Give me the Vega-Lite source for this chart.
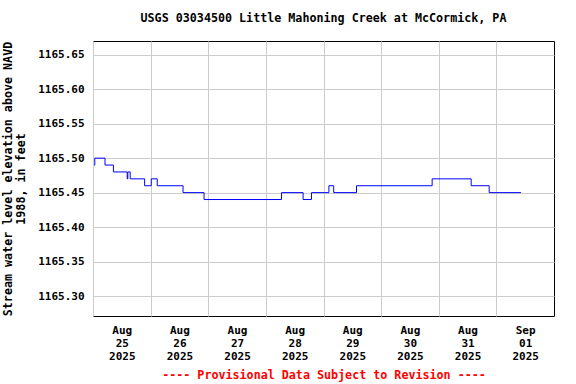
{
  "$schema": "https://vega.github.io/schema/vega-lite/v6.json",
  "width": 461,
  "height": 275,
  "autosize": {"type": "none"},
  "padding": {"left": 93, "top": 41, "right": 22, "bottom": 68},
  "background": "white",
  "title": {
    "text": "USGS 03034500 Little Mahoning Creek at McCormick, PA",
    "font": "DejaVu Sans Mono",
    "fontSize": 11.7,
    "fontWeight": "bold",
    "color": "black",
    "anchor": "middle",
    "offset": 16
  },
  "config": {
    "view": {"stroke": "black", "strokeWidth": 1},
    "axis": {
      "labelFont": "DejaVu Sans Mono",
      "labelFontWeight": "bold",
      "labelFontSize": 11,
      "labelColor": "black",
      "titleFont": "DejaVu Sans Mono",
      "titleFontWeight": "bold",
      "titleFontSize": 11.7,
      "titleColor": "black",
      "gridColor": "#cccccc",
      "gridWidth": 1,
      "domain": false,
      "ticks": false
    }
  },
  "data": {
    "values": [
      {"t": "2025-08-25T00:25:00Z", "v": 1165.49},
      {"t": "2025-08-25T00:45:00Z", "v": 1165.50},
      {"t": "2025-08-25T05:00:00Z", "v": 1165.49},
      {"t": "2025-08-25T08:30:00Z", "v": 1165.48},
      {"t": "2025-08-25T14:15:00Z", "v": 1165.47},
      {"t": "2025-08-25T14:30:00Z", "v": 1165.48},
      {"t": "2025-08-25T15:30:00Z", "v": 1165.47},
      {"t": "2025-08-25T21:30:00Z", "v": 1165.46},
      {"t": "2025-08-26T00:15:00Z", "v": 1165.47},
      {"t": "2025-08-26T02:45:00Z", "v": 1165.46},
      {"t": "2025-08-26T13:30:00Z", "v": 1165.45},
      {"t": "2025-08-26T22:15:00Z", "v": 1165.44},
      {"t": "2025-08-28T06:30:00Z", "v": 1165.45},
      {"t": "2025-08-28T15:30:00Z", "v": 1165.44},
      {"t": "2025-08-28T19:00:00Z", "v": 1165.45},
      {"t": "2025-08-29T02:15:00Z", "v": 1165.46},
      {"t": "2025-08-29T04:15:00Z", "v": 1165.45},
      {"t": "2025-08-29T13:45:00Z", "v": 1165.46},
      {"t": "2025-08-30T21:15:00Z", "v": 1165.47},
      {"t": "2025-08-31T13:30:00Z", "v": 1165.46},
      {"t": "2025-08-31T21:00:00Z", "v": 1165.45},
      {"t": "2025-09-01T10:15:00Z", "v": 1165.45}
    ]
  },
  "mark": {"type": "line", "interpolate": "step-after", "color": "#0000ff", "strokeWidth": 1, "clip": true},
  "encoding": {
    "x": {
      "field": "t",
      "type": "temporal",
      "scale": {"type": "utc", "domain": [{"year": 2025, "month": 8, "date": 25, "utc": true}, {"year": 2025, "month": 9, "date": 2, "utc": true}]},
      "axis": {
        "values": [
          {"year": 2025, "month": 8, "date": 25, "utc": true},
          {"year": 2025, "month": 8, "date": 26, "utc": true},
          {"year": 2025, "month": 8, "date": 27, "utc": true},
          {"year": 2025, "month": 8, "date": 28, "utc": true},
          {"year": 2025, "month": 8, "date": 29, "utc": true},
          {"year": 2025, "month": 8, "date": 30, "utc": true},
          {"year": 2025, "month": 8, "date": 31, "utc": true},
          {"year": 2025, "month": 9, "date": 1, "utc": true}
        ],
        "labelExpr": "[utcFormat(datum.value, '%b'), utcFormat(datum.value, '%d'), utcFormat(datum.value, '%Y')]",
        "labelOffset": 28.8,
        "labelPadding": 8,
        "labelLineHeight": 13,
        "labelAlign": "center",
        "labelFlush": false,
        "labelOverlap": false,
        "title": "---- Provisional Data Subject to Revision ----",
        "titleColor": "#ff0000",
        "titleFontSize": 11.7,
        "titlePadding": 8
      }
    },
    "y": {
      "field": "v",
      "type": "quantitative",
      "scale": {"domain": [1165.271, 1165.67], "zero": false, "nice": false},
      "axis": {
        "values": [1165.30, 1165.35, 1165.40, 1165.45, 1165.50, 1165.55, 1165.60, 1165.65],
        "format": ".2f",
        "labelPadding": 9,
        "title": ["Stream water level elevation above NAVD", "1988, in feet"],
        "titlePadding": 11,
        "titleLineHeight": 13
      }
    }
  }
}
